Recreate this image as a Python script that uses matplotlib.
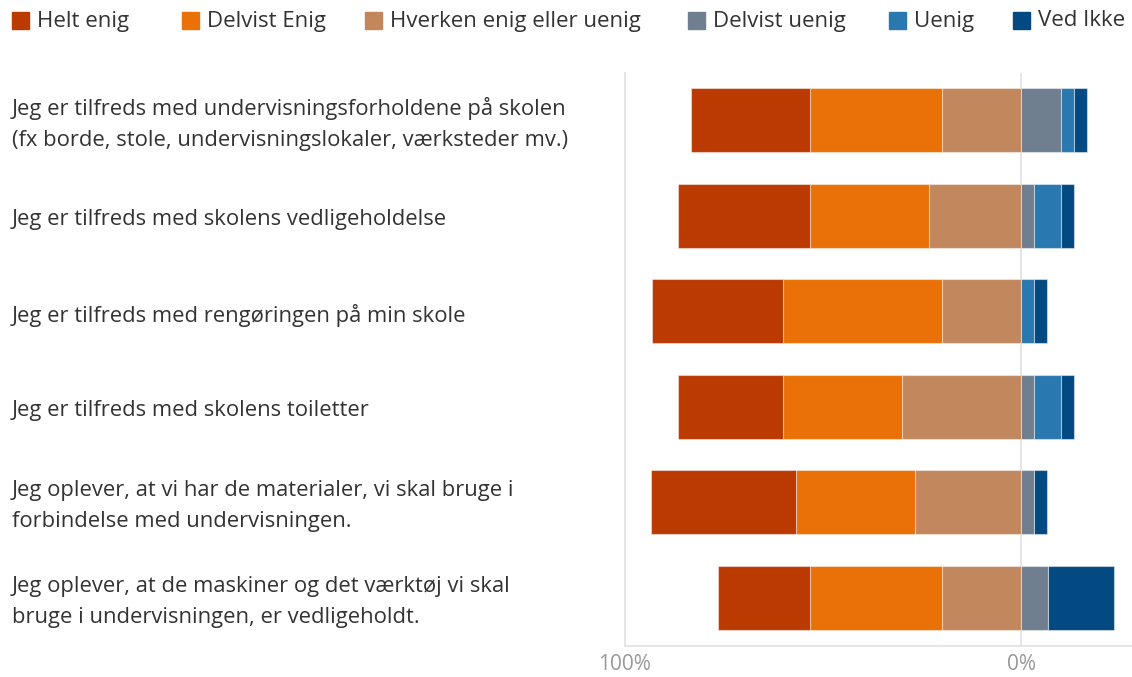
import matplotlib
matplotlib.use("Agg")
import matplotlib.pyplot as plt
import matplotlib.transforms as mtransforms
from matplotlib.patches import Rectangle
import numpy as np

plt.rcParams['font.family'] = ['Open Sans', 'DejaVu Sans']

categories = [
    "Jeg er tilfreds med undervisningsforholdene på skolen\n(fx borde, stole, undervisningslokaler, værksteder mv.)",
    "Jeg er tilfreds med skolens vedligeholdelse",
    "Jeg er tilfreds med rengøringen på min skole",
    "Jeg er tilfreds med skolens toiletter",
    "Jeg oplever, at vi har de materialer, vi skal bruge i\nforbindelse med undervisningen.",
    "Jeg oplever, at de maskiner og det værktøj vi skal\nbruge i undervisningen, er vedligeholdt.",
]
series_names = ["Helt enig", "Delvist Enig", "Hverken enig eller uenig",
                "Delvist uenig", "Uenig", "Ved Ikke"]
helt_enig = [30.0, 33.3, 33.3, 26.7, 36.7, 23.3]
delvist_enig = [33.3, 30.0, 40.0, 30.0, 30.0, 33.3]
hverken = [20.0, 23.3, 20.0, 30.0, 26.7, 20.0]
delvist_uenig = [10.0, 3.3, 0.0, 3.3, 3.3, 6.7]
uenig = [3.3, 6.7, 3.3, 6.7, 0.0, 0.0]
ved_ikke = [3.3, 3.3, 3.3, 3.3, 3.3, 16.7]
colors = ["#BA3A02", "#E97108", "#C2875D", "#6F7F8F", "#2A78B0", "#034A82"]

W, H = 1132, 677
fig = plt.figure(figsize=(W / 100, H / 100), dpi=100)
ax = fig.add_axes([625 / W, 1 - 645.5 / H, 1 - 625 / W, (645.5 - 72.5) / H])

y = np.arange(len(categories))
left_series = [hverken, delvist_enig, helt_enig]   # stacked outward from 0
right_series = [delvist_uenig, uenig, ved_ikke]
edge = (1, 1, 1, 0.45)

start = np.zeros(len(y))
for vals, c in zip(left_series, [colors[2], colors[1], colors[0]]):
    v = np.array(vals)
    ax.barh(y, -v, left=-start, height=0.665, color=c, edgecolor=edge, linewidth=0.8)
    start = start + v
start = np.zeros(len(y))
for vals, c in zip(right_series, colors[3:]):
    v = np.array(vals)
    ax.barh(y, v, left=start, height=0.665, color=c, edgecolor=edge, linewidth=0.8)
    start = start + v

ax.set_ylim(len(y) - 0.5, -0.5)
ax.set_xlim(-100, (W - 1021) / 3.96)
ax.axvline(0, color="#e0e0e0", lw=1.2, zorder=0)
for s in ["top", "right"]:
    ax.spines[s].set_visible(False)
ax.spines["left"].set_color("#e0e0e0")
ax.spines["bottom"].set_color("#e0e0e0")
ax.spines["left"].set_linewidth(1.2)
ax.spines["bottom"].set_linewidth(1.2)
ax.set_yticks([])
ax.set_xticks([-100, 0])
ax.set_xticklabels(["100%", "0%"], color="#999999", fontsize=15)
ax.tick_params(axis="x", length=0, pad=6)

trans = mtransforms.blended_transform_factory(fig.transFigure, ax.transData)
trans = mtransforms.offset_copy(trans, fig=fig, y=-4, units="dots")
for yi, lab in zip(y, categories):
    ax.text(12 / W, yi, lab, transform=trans, ha="left", va="center",
            fontsize=15.8, color="#333333", linespacing=1.6, clip_on=False)

# legend
leg_x = [12, 182, 365, 688, 889, 1013]
for xp, name, c in zip(leg_x, series_names, colors):
    fig.patches.append(Rectangle((xp / W, 1 - 29 / H), 17 / W, 17 / H,
                                 transform=fig.transFigure, color=c))
    fig.text((xp + 25) / W, 1 - 21 / H, name, ha="left", va="center",
             fontsize=16, color="#333333")

fig.savefig("out.png", dpi=100)
